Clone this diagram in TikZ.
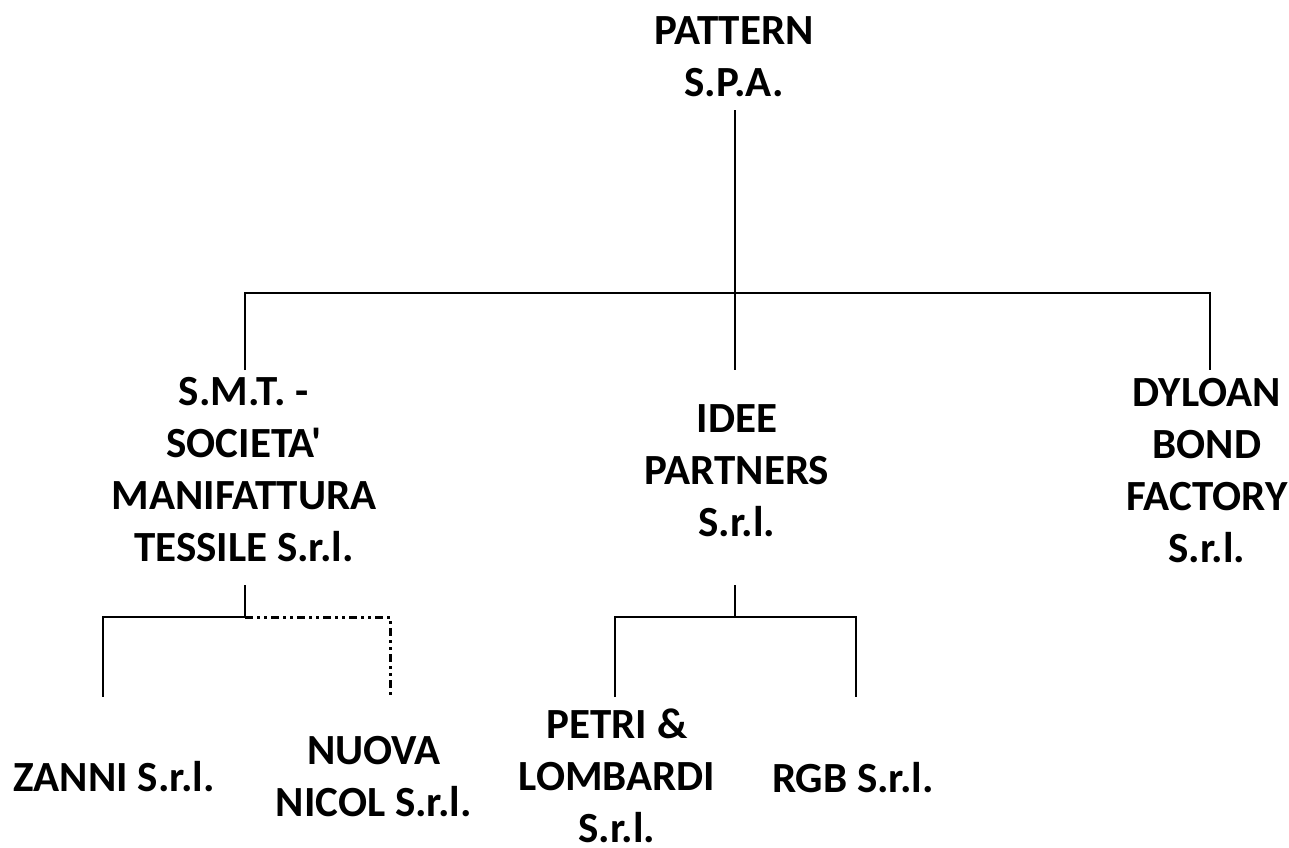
\documentclass[tikz,border=0pt]{standalone}
\usepackage{fontspec}
\setmainfont{Carlito}[Ligatures=TeXOff]
\begin{document}
\begin{tikzpicture}[x=1pt,y=-1pt,
  org/.style={anchor=south,inner sep=0pt,align=center,font=\bfseries\fontsize{43}{52}\selectfont},
  link/.style={line width=1.6pt},
  dashlink/.style={line width=3pt,dash pattern=on 8pt off 4pt on 3pt off 4pt on 3pt off 4pt}]
\useasboundingbox (0,0) rectangle (1289,847);
\node[org] (pattern) at (734,97) {PATTERN\\S.P.A.};
\node[org] (smt) at (244,562) {S.M.T. -\\SOCIETA'\\MANIFATTURA\\TESSILE S.r.l.};
\node[org] (idee) at (737,537) {IDEE\\PARTNERS\\S.r.l.};
\node[org] (dyloan) at (1207,563) {DYLOAN\\BOND\\FACTORY\\S.r.l.};
\node[org] (zanni) at (114,792) {ZANNI S.r.l.};
\node[org] (nuova) at (374,817) {NUOVA\\NICOL S.r.l.};
\node[org] (petri) at (617,843) {PETRI \&\\LOMBARDI\\S.r.l.};
\node[org] (rgb) at (853,793) {RGB S.r.l.};
% connector end points
\coordinate (pTop) at (735,110);
\coordinate (busR) at (1210,293);
\coordinate (smtIn) at (245,370);
\coordinate (ideeIn) at (735,370);
\coordinate (dyIn) at (1210,370);
\coordinate (smtOut) at (245,585);
\coordinate (smtBus) at (245,617);
\coordinate (zanIn) at (103,697);
\coordinate (nuoIn) at (390,697);
\coordinate (ideeOut) at (735,585);
\coordinate (ideeBus) at (735,617);
\coordinate (petIn) at (615,697);
\coordinate (rgbIn) at (856,697);
\draw[link] (pTop) -- (ideeIn);
\draw[link] (smtIn) |- (busR) -- (dyIn);
\draw[link] (smtOut) -- (smtBus) -| (zanIn);
\draw[dashlink] (smtBus) -| (nuoIn);
\draw[link] (ideeOut) -- (ideeBus);
\draw[link] (petIn) |- (ideeBus) -| (rgbIn);
\end{tikzpicture}
\end{document}
